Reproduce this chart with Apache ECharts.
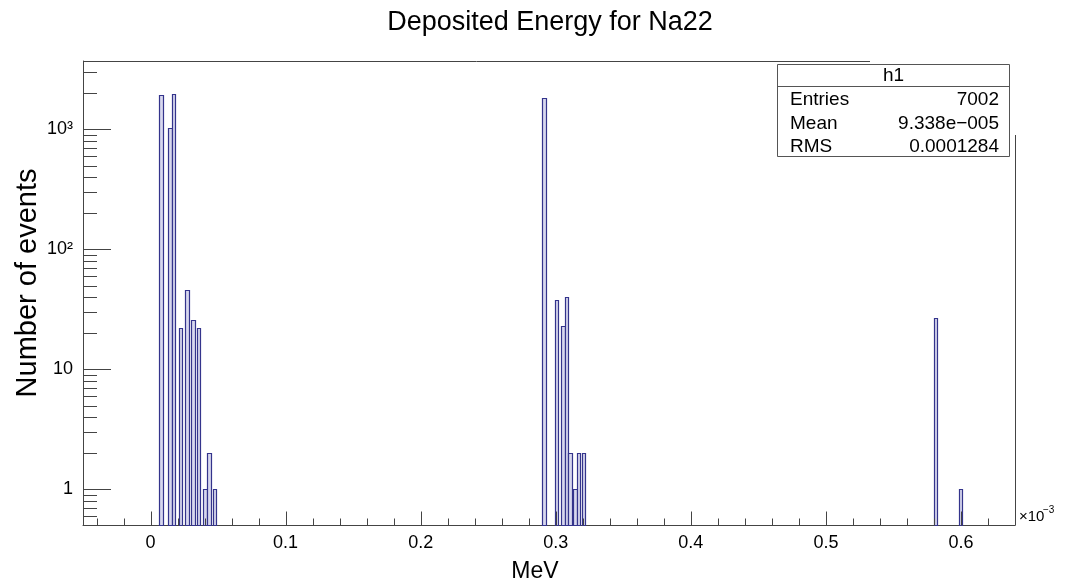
<!DOCTYPE html>
<html>
<head>
<meta charset="utf-8">
<title>Deposited Energy for Na22</title>
<script src="https://cdn.jsdelivr.net/npm/echarts@6/dist/echarts.min.js"></script>
<style>
  html, body { margin: 0; padding: 0; background: #fff; }
  #chart { width: 1065px; height: 587px; }
</style>
</head>
<body>
<div id="chart"></div>
<script>
// Histogram h1: deposited energy (x in units of 1e-3 MeV), counts per bin.
const binLow = [
  0.0064, 0.0129, 0.0156, 0.0209, 0.0258, 0.0300, 0.0342, 0.0390, 0.0417, 0.0460,
  0.2898, 0.2992, 0.3038, 0.3065, 0.3092, 0.3127, 0.3154, 0.3192,
  0.5797, 0.5984
];
const binCount = [
  1931, 1020, 1965, 22, 46, 26, 22, 1, 2, 1,
  1830, 38, 23, 40, 2, 1, 2, 2,
  27, 1
];
const BIN_WIDTH = 0.0027;

// Axis ranges
const X_MIN = -0.05, X_MAX = 0.64;
const Y_MIN = 0.5, Y_MAX = 3715;

// Tick values and labels
const xMajorTicks = [0, 0.1, 0.2, 0.3, 0.4, 0.5, 0.6];
const xTickLabels = ['0', '0.1', '0.2', '0.3', '0.4', '0.5', '0.6'];
const xMinorTicks = [-0.04, -0.02, 0.02, 0.04, 0.06, 0.08, 0.12, 0.14, 0.16, 0.18,
  0.22, 0.24, 0.26, 0.28, 0.32, 0.34, 0.36, 0.38, 0.42, 0.44, 0.46, 0.48,
  0.52, 0.54, 0.56, 0.58, 0.62];
const yMajorTicks = [1, 10, 100, 1000];
const yTickLabels = { 0: '1', 1: '10', 2: '10\u00B2', 3: '10\u00B3' };
const yMinorTicks = [0.6, 0.7, 0.8, 0.9, 2, 3, 4, 5, 6, 7, 8, 9,
  20, 30, 40, 50, 60, 70, 80, 90, 200, 300, 400, 500, 600, 700, 800, 900, 2000, 3000];

// Stats box
const statsTitle = 'h1';
const statsNames = ['Entries', 'Mean', 'RMS'];
const statsValues = ['7002', '9.338e\u2212005', '0.0001284'];

const FONT = 'Liberation Sans, Arial, Helvetica, sans-serif';
const AXIS_COLOR = '#444';

const chart = echarts.init(document.getElementById('chart'), null, { renderer: 'canvas' });

const histData = binLow.map((x, i) => [x, binCount[i]]);

const GRID = { left: 83, top: 61, width: 932, height: 464.5 };

// Ticks drawn inward from the bottom (x) or left (y) edge of the frame
function xTickSeries(name, values, len) {
  return {
    name, type: 'custom', coordinateSystem: 'cartesian2d', silent: true, z: 4,
    data: values.map(v => [v, Y_MIN]), encode: { x: 0, y: 1 },
    renderItem: (params, api) => {
      const p = api.coord([api.value(0), Y_MIN]);
      const x = Math.round(p[0]) + 0.5;
      return { type: 'line', shape: { x1: x, y1: p[1], x2: x, y2: p[1] - len }, style: { stroke: AXIS_COLOR, lineWidth: 1 } };
    }
  };
}
function yTickSeries(name, values, len) {
  return {
    name, type: 'custom', coordinateSystem: 'cartesian2d', silent: true, z: 4,
    data: values.map(v => [X_MIN, v]), encode: { x: 0, y: 1 },
    renderItem: (params, api) => {
      const p = api.coord([X_MIN, api.value(1)]);
      const y = Math.round(p[1]) + 0.5;
      return { type: 'line', shape: { x1: p[0], y1: y, x2: p[0] + len, y2: y }, style: { stroke: AXIS_COLOR, lineWidth: 1 } };
    }
  };
}

const statsGraphics = [];
const BOX = { x: 777.5, y: 64.5, w: 232, h: 92 };
statsGraphics.push({
  type: 'rect', z: 100,
  shape: { x: BOX.x, y: BOX.y, width: BOX.w, height: BOX.h },
  style: { fill: '#fff', stroke: '#555', lineWidth: 1 }
});
statsGraphics.push({
  type: 'line', z: 101,
  shape: { x1: BOX.x, y1: 86.5, x2: BOX.x + BOX.w, y2: 86.5 },
  style: { stroke: '#555', lineWidth: 1 }
});
statsGraphics.push({
  type: 'text', z: 101, x: BOX.x + BOX.w / 2, y: 76,
  style: { text: statsTitle, font: '19px ' + FONT, fill: '#000', textAlign: 'center', textVerticalAlign: 'middle' }
});
const rowY = [100, 124, 147];
statsNames.forEach((name, i) => {
  statsGraphics.push({
    type: 'text', z: 101, x: 790, y: rowY[i],
    style: { text: name, font: '19px ' + FONT, fill: '#000', textAlign: 'left', textVerticalAlign: 'middle' }
  });
  statsGraphics.push({
    type: 'text', z: 101, x: 999, y: rowY[i],
    style: { text: statsValues[i], font: '19px ' + FONT, fill: '#000', textAlign: 'right', textVerticalAlign: 'middle' }
  });
});

const option = {
  animation: false,
  backgroundColor: '#fff',
  grid: GRID,
  xAxis: {
    type: 'value', min: X_MIN, max: X_MAX,
    axisLine: { show: true, onZero: false, lineStyle: { color: AXIS_COLOR, width: 1 } },
    axisTick: { show: false },
    axisLabel: {
      customValues: xMajorTicks,
      formatter: v => xTickLabels[xMajorTicks.findIndex(t => Math.abs(t - v) < 1e-9)] || '',
      fontFamily: FONT, fontSize: 18, color: '#000', margin: 9
    },
    splitLine: { show: false }
  },
  yAxis: {
    type: 'log', logBase: 10, min: Y_MIN, max: Y_MAX,
    axisLine: { show: true, onZero: false, lineStyle: { color: AXIS_COLOR, width: 1 } },
    axisTick: { show: false },
    axisLabel: {
      formatter: v => {
        const e = Math.log10(v);
        const r = Math.round(e);
        return Math.abs(e - r) < 1e-6 && yTickLabels[r] !== undefined ? yTickLabels[r] : '';
      },
      fontFamily: FONT, fontSize: 18, color: '#000', margin: 10
    },
    splitLine: { show: false },
    minorTick: { show: false }
  },
  series: [
    {
      name: 'h1',
      type: 'custom',
      coordinateSystem: 'cartesian2d',
      data: histData,
      encode: { x: 0, y: 1 },
      z: 3,
      renderItem: (params, api) => {
        const x0 = api.value(0);
        const n = api.value(1);
        const tl = api.coord([x0, n]);
        const br = api.coord([x0 + BIN_WIDTH, Y_MIN]);
        const left = Math.round(tl[0]) + 0.5;
        const right = Math.max(left + 2, Math.round(br[0]) + 0.5);
        const top = Math.round(tl[1]) + 0.5;
        return {
          type: 'rect',
          shape: { x: left, y: top, width: right - left, height: br[1] - top },
          style: { fill: '#d8d8ee', stroke: '#34348c', lineWidth: 1.2 }
        };
      }
    },
    xTickSeries('xMajorTicks', xMajorTicks, 14),
    xTickSeries('xMinorTicks', xMinorTicks, 7),
    yTickSeries('yMajorTicks', yMajorTicks, 28),
    yTickSeries('yMinorTicks', yMinorTicks, 14)
  ],
  graphic: [
    // frame: top edge (left part) and right edge
    { type: 'line', z: 50, shape: { x1: 83, y1: 61.5, x2: 870, y2: 61.5 }, style: { stroke: AXIS_COLOR, lineWidth: 1 } },
    { type: 'line', z: 50, shape: { x1: 1015.5, y1: 135, x2: 1015.5, y2: 525.5 }, style: { stroke: AXIS_COLOR, lineWidth: 1 } },
    // title
    { type: 'text', x: 550, y: 23, style: { text: 'Deposited Energy for Na22', font: '27px ' + FONT, fill: '#000', textAlign: 'center', textVerticalAlign: 'middle' } },
    // axis titles
    { type: 'text', x: 28, y: 283, rotation: Math.PI / 2, style: { text: 'Number of events', font: '29px ' + FONT, fill: '#000', textAlign: 'center', textVerticalAlign: 'middle' } },
    { type: 'text', x: 535, y: 572, style: { text: 'MeV', font: '23px ' + FONT, fill: '#000', textAlign: 'center', textVerticalAlign: 'middle' } },
    // exponent of the x axis
    { type: 'text', x: 1019, y: 517, style: { text: '\u00D710', font: '15px ' + FONT, fill: '#000', textAlign: 'left', textVerticalAlign: 'middle' } },
    { type: 'text', x: 1043, y: 510, style: { text: '\u22123', font: '10px ' + FONT, fill: '#000', textAlign: 'left', textVerticalAlign: 'middle' } }
  ].concat(statsGraphics)
};

chart.setOption(option);
</script>
</body>
</html>
